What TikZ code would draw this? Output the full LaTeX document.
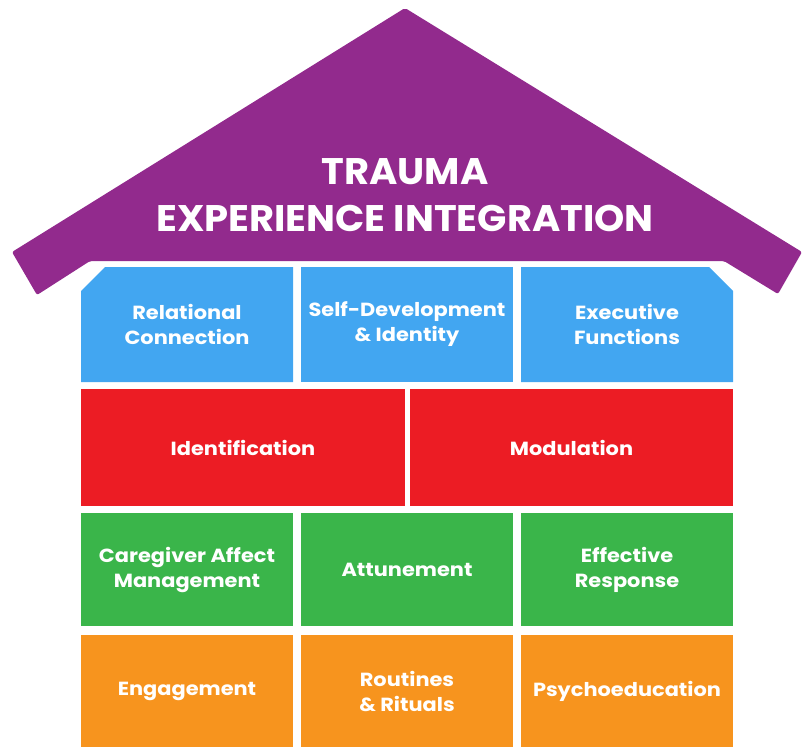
\documentclass[tikz,border=0pt]{standalone}
\usepackage{fontspec}
\setmainfont{Poppins}
\newfontfamily\labelfont{Poppins}[FakeStretch=1.1]
\newfontfamily\titlefont{Poppins}[FakeStretch=1.04]
\usetikzlibrary{shapes.misc}
\definecolor{roofpurple}{HTML}{922A8D}
\definecolor{boxblue}{HTML}{42A6F1}
\definecolor{boxred}{HTML}{EC1C24}
\definecolor{boxgreen}{HTML}{3AB54A}
\definecolor{boxorange}{HTML}{F7941E}
\begin{document}
\begin{tikzpicture}[x=1pt,y=-1pt,
  blk/.style={rectangle,inner sep=0pt,minimum width=212pt,text=white,align=center,
    font=\labelfont\bfseries\fontsize{19}{25}\selectfont},
  bluebox/.style={blk,fill=boxblue,minimum height=115pt},
  redbox/.style={blk,fill=boxred,minimum height=117pt,minimum width=324pt},
  greenbox/.style={blk,fill=boxgreen,minimum height=113pt},
  orangebox/.style={blk,fill=boxorange,minimum height=112pt},
  chamf/.style={chamfered rectangle,chamfered rectangle xsep=12pt,chamfered rectangle ysep=12pt}]
\useasboundingbox (0,0) rectangle (810,747);
% roof
\fill[roofpurple,rounded corners=2pt] (405,8) -- (802,252) -- (778,294) -- (724,261) -- (90,261) -- (37,295) -- (12,252) -- cycle;
\node[text=white,align=center,font=\titlefont\bfseries\fontsize{37}{47}\selectfont] (title) at (405,195) {TRAUMA\\EXPERIENCE INTEGRATION};
% row 1
\node[bluebox,chamf,chamfered rectangle corners={north west}] (rel) at (187,324.5) {Relational\\Connection};
\node[bluebox] (self) at (407,324.5) {Self-Development\\\& Identity};
\node[bluebox,chamf,chamfered rectangle corners={north east}] (exec) at (627,324.5) {Executive\\Functions};
% row 2
\node[redbox] (ident) at (243,447.5) {Identification};
\node[redbox,minimum width=323pt] (mod) at (571.5,447.5) {Modulation};
% row 3
\node[greenbox] (care) at (187,569.5) {Caregiver Affect\\Management};
\node[greenbox] (att) at (407,569.5) {Attunement};
\node[greenbox] (eff) at (627,569.5) {Effective\\Response};
% row 4
\node[orangebox] (eng) at (187,691) {Engagement};
\node[orangebox] (rout) at (407,691) {Routines\\\& Rituals};
\node[orangebox] (psy) at (627,691) {Psychoeducation};
\end{tikzpicture}
\end{document}
